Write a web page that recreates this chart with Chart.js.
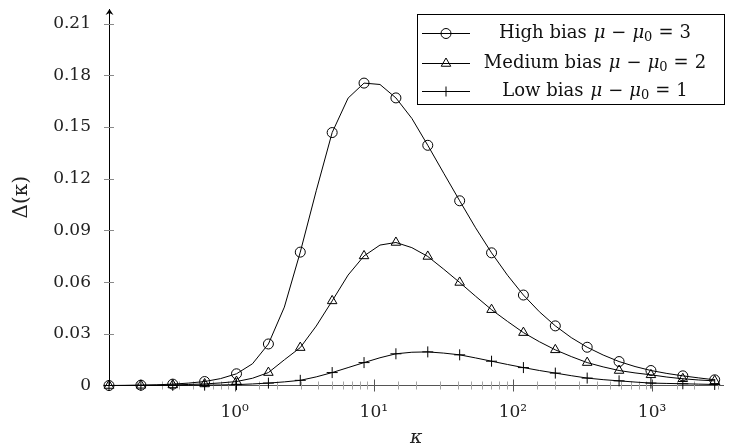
<!DOCTYPE html>
<html>
<head>
<meta charset="utf-8">
<title>Delta(kappa)</title>
<script src="https://cdn.jsdelivr.net/npm/chart.js@4.4.1/dist/chart.umd.min.js"></script>
<style>
    html, body { margin: 0; padding: 0; background: #fff; }
</style>
</head>
<body>
<canvas id="graph" width="730" height="446"></canvas>
<script>
// kappa grid: markers sit on every other point
const kappa = [
    0.125, 0.1627, 0.2119, 0.2758, 0.359, 0.4674, 0.6085, 0.792, 1.031, 1.343,
    1.748, 2.276, 2.962, 3.857, 5.02, 6.536, 8.507, 11.08, 14.42, 18.77,
    24.43, 31.81, 41.41, 53.91, 70.19, 91.38, 118.9, 154.9, 201.6, 262.4,
    341.6, 444.8, 579.0, 753.9, 981.1, 1277.5, 1663, 2165, 2818
];

const highBias = [
    0, 0.0001, 0.0002, 0.0004, 0.0008, 0.0014, 0.0023, 0.004, 0.0068, 0.0126,
    0.0241, 0.0455, 0.0774, 0.113, 0.1468, 0.1668, 0.1755, 0.1747, 0.1669, 0.155,
    0.1394, 0.1232, 0.1072, 0.0915, 0.077, 0.064, 0.0525, 0.0428, 0.0346, 0.0278,
    0.0222, 0.0177, 0.0139, 0.011, 0.0087, 0.007, 0.0056, 0.0044, 0.0033
];

const mediumBias = [
    0, 0, 0.0001, 0.0002, 0.0003, 0.0006, 0.0009, 0.0015, 0.0023, 0.0042,
    0.0075, 0.0149, 0.022, 0.0345, 0.0491, 0.0641, 0.0752, 0.0815, 0.083, 0.08,
    0.0749, 0.0675, 0.0598, 0.0518, 0.044, 0.0372, 0.0307, 0.0254, 0.0207, 0.0168,
    0.0133, 0.0108, 0.0087, 0.0073, 0.0062, 0.0049, 0.0039, 0.0032, 0.0027
];

const lowBias = [
    0, 0, 0, 0, 0.0001, 0.0001, 0.0002, 0.0003, 0.0005, 0.0009,
    0.0014, 0.0021, 0.003, 0.005, 0.0075, 0.0104, 0.0133, 0.0161, 0.0184, 0.0193,
    0.0195, 0.0188, 0.0178, 0.016, 0.0141, 0.0122, 0.0104, 0.0087, 0.0072, 0.0057,
    0.0043, 0.0034, 0.0027, 0.002, 0.0014, 0.0012, 0.001, 0.0008, 0.0006
];

const seriesNames = ["High bias", "Medium bias", "Low bias"];
const biasLevels = ["3", "2", "1"];
const markers = ["circle", "triangle", "cross"];
const decadeTicks = [1, 10, 100, 1000];
const superscripts = { 0: "\u2070", 1: "\u00b9", 2: "\u00b2", 3: "\u00b3" };

const serif = "'DejaVu Serif', 'Liberation Serif', serif";

function toPoints(values) {
    return values.map(function (v, i) {
        return { x: kappa[i], y: v };
    });
}

function markerRadius(shape) {
    return function (ctx) {
        if (ctx.dataIndex % 2 === 1) return 0;
        return shape === "circle" ? 5 : 5.5;
    };
}

function makeDataset(values, k) {
    return {
        label: seriesNames[k],
        data: toPoints(values),
        borderColor: "#000",
        borderWidth: 1,
        tension: 0,
        clip: false,
        pointStyle: markers[k],
        pointRadius: markerRadius(markers[k]),
        pointHoverRadius: markerRadius(markers[k]),
        pointBorderColor: "#000",
        pointBackgroundColor: "rgba(0,0,0,0)",
        pointBorderWidth: 1
    };
}

// little marker shapes for the legend
function drawMarker(ctx, shape, x, y) {
    ctx.beginPath();
    if (shape === "circle") {
        ctx.arc(x, y, 5, 0, Math.PI * 2);
    } else if (shape === "triangle") {
        const r = 5.5;
        ctx.moveTo(x, y - r);
        ctx.lineTo(x + r * Math.sin(Math.PI * 2 / 3), y - r * Math.cos(Math.PI * 2 / 3));
        ctx.lineTo(x + r * Math.sin(Math.PI * 4 / 3), y - r * Math.cos(Math.PI * 4 / 3));
        ctx.closePath();
    } else {
        ctx.moveTo(x - 5, y);
        ctx.lineTo(x + 5, y);
        ctx.moveTo(x, y - 5);
        ctx.lineTo(x, y + 5);
    }
    ctx.stroke();
}

// legend row text with italic mu, subscript zero and wider math spacing
function drawRowText(ctx, cx, y, name, level) {
    const up = "18px " + serif;
    const it = "italic 18px " + serif;
    const parts = [
        [name, up, 0, 7],
        ["\u03bc", it, 0, 6],
        ["\u2212", up, 0, 6],
        ["\u03bc", it, 0, 0],
        ["0", "13px " + serif, 4, 6],
        ["=", up, 0, 6],
        [level, up, 0, 0]
    ];
    let total = 0;
    parts.forEach(function (p) {
        ctx.font = p[1];
        total += ctx.measureText(p[0]).width + p[3];
    });
    let x = cx - total / 2;
    parts.forEach(function (p) {
        ctx.font = p[1];
        ctx.fillText(p[0], x, y + p[2]);
        x += ctx.measureText(p[0]).width + p[3];
    });
}

const axisDecor = {
    id: "axisDecor",
    beforeDatasetsDraw(chart) {
        const ctx = chart.ctx;
        const area = chart.chartArea;
        const xs = chart.scales.x;
        const ys = chart.scales.y;
        ctx.save();
        ctx.lineWidth = 1;

        // y ticks cross the axis line
        ctx.strokeStyle = "#8a8a8a";
        ys.ticks.forEach(function (t) {
            if (t.value <= 0) return;
            const py = Math.round(ys.getPixelForValue(t.value)) + 0.5;
            ctx.beginPath();
            ctx.moveTo(area.left - 5, py);
            ctx.lineTo(area.left + 5, py);
            ctx.stroke();
        });

        // x ticks: decades darker and a bit longer
        xs.ticks.forEach(function (t) {
            if (t.value <= xs.min || t.value >= xs.max) return;
            const lg = Math.log10(t.value);
            const major = Math.abs(lg - Math.round(lg)) < 1e-6;
            const px = Math.round(xs.getPixelForValue(t.value)) + 0.5;
            const len = major ? 6 : 4;
            ctx.strokeStyle = major ? "#555" : "#a6a6a6";
            ctx.beginPath();
            ctx.moveTo(px, area.bottom - len);
            ctx.lineTo(px, area.bottom + len);
            ctx.stroke();
        });
        ctx.restore();
    },
    afterDraw(chart) {
        const ctx = chart.ctx;
        const area = chart.chartArea;
        ctx.save();

        // arrow head on the y axis
        const ax = area.left + 0.5;
        ctx.fillStyle = "#000";
        ctx.beginPath();
        ctx.moveTo(ax, area.top);
        ctx.lineTo(ax + 4, area.top + 6);
        ctx.lineTo(ax, area.top + 4);
        ctx.lineTo(ax - 4, area.top + 6);
        ctx.closePath();
        ctx.fill();

        // legend box
        const box = { left: 417.5, top: 14.5, right: 724.5, bottom: 104.5 };
        ctx.fillStyle = "#fff";
        ctx.fillRect(box.left, box.top, box.right - box.left, box.bottom - box.top);
        ctx.strokeStyle = "#000";
        ctx.lineWidth = 1;
        ctx.strokeRect(box.left, box.top, box.right - box.left, box.bottom - box.top);

        const rowY = [33, 62.5, 91];
        ctx.textBaseline = "middle";
        ctx.fillStyle = "#111";
        seriesNames.forEach(function (name, k) {
            const y = Math.round(rowY[k]) + 0.5;
            ctx.strokeStyle = "#000";
            ctx.beginPath();
            ctx.moveTo(422, y);
            ctx.lineTo(470, y);
            ctx.stroke();
            drawMarker(ctx, markers[k], 446, y);
            drawRowText(ctx, 595, y, name, biasLevels[k]);
        });
        ctx.restore();
    }
};

const graph = document.getElementById("graph");

new Chart(graph.getContext("2d"), {
    type: "line",
    data: {
        datasets: [
            makeDataset(highBias, 0),
            makeDataset(mediumBias, 1),
            makeDataset(lowBias, 2)
        ]
    },
    options: {
        responsive: false,
        animation: false,
        devicePixelRatio: 1,
        layout: { padding: { top: 9, right: 0, bottom: 0, left: 0 } },
        font: { family: serif },
        scales: {
            x: {
                type: "logarithmic",
                min: 0.125,
                max: 3260,
                grid: { display: false, drawTicks: false },
                border: { display: true, color: "#555", width: 1 },
                afterFit: function (scale) {
                    scale.height = 60.5;
                    scale.paddingLeft = 0;
                    scale.paddingRight = 0;
                },
                ticks: {
                    autoSkip: false,
                    maxRotation: 0,
                    padding: 17,
                    color: "#222",
                    font: { family: serif, size: 17 },
                    callback: function (value) {
                        const i = decadeTicks.indexOf(value);
                        return i < 0 ? "" : "10" + superscripts[i];
                    }
                },
                title: {
                    display: true,
                    text: "\u03ba",
                    color: "#222",
                    font: { family: serif, size: 19, style: "italic", lineHeight: 1 },
                    padding: { top: 0, bottom: -2 }
                }
            },
            y: {
                min: 0,
                max: 0.2185,
                grid: { display: false, drawTicks: false },
                border: { display: true, color: "#000", width: 1 },
                afterFit: function (scale) {
                    scale.width = 109;
                    scale.paddingTop = 0;
                    scale.paddingBottom = 0;
                },
                ticks: {
                    stepSize: 0.03,
                    includeBounds: false,
                    padding: 18,
                    color: "#222",
                    font: { family: serif, size: 17 },
                    callback: function (value) {
                        return value === 0 ? "0" : value.toFixed(2);
                    }
                },
                title: {
                    display: true,
                    text: "\u0394(\u03ba)",
                    color: "#222",
                    font: { family: serif, size: 20, lineHeight: 1.2 },
                    padding: { top: 10, bottom: 0 }
                }
            }
        },
        plugins: {
            legend: { display: false },
            tooltip: { enabled: false }
        }
    },
    plugins: [axisDecor]
});
</script>
</body>
</html>
